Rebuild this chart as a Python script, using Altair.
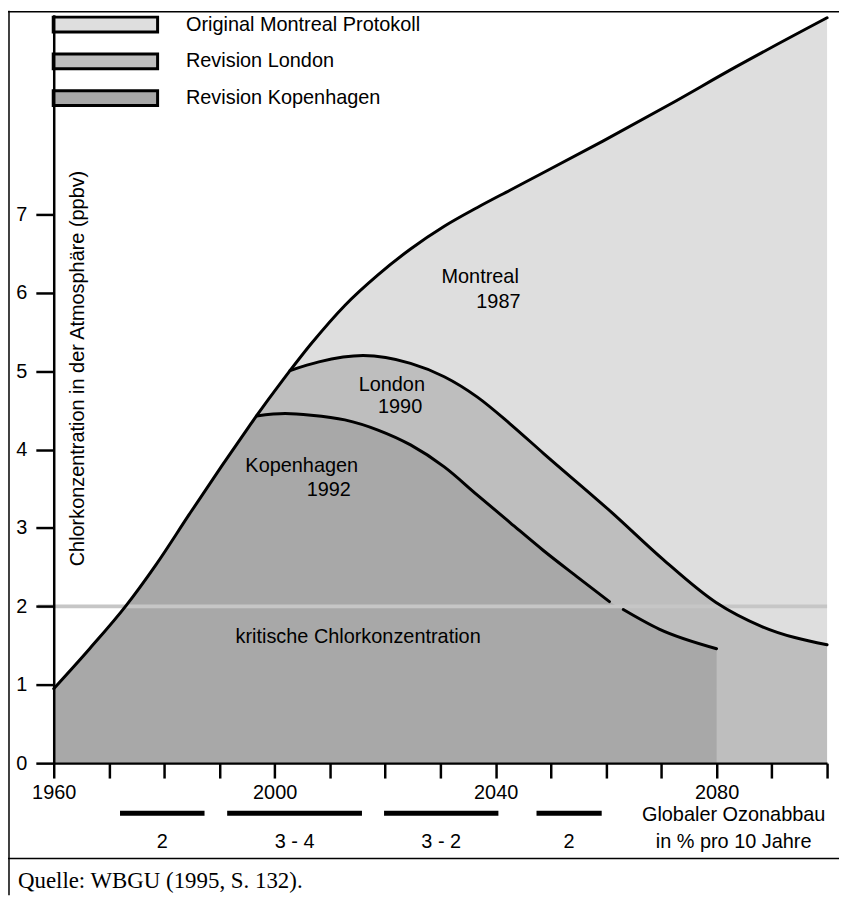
import altair as alt
import pandas as pd

# ---------------- data ----------------
montreal_years = [1960.0, 1966.5, 1973.1, 1978.5, 1984.5, 1990.4, 1995.5, 1996.7,
                  2001.5, 2002.8, 2006.6, 2012.7, 2018.7, 2024.6, 2030.7, 2036.7,
                  2042.6, 2048.0, 2059.5, 2071.4, 2083.4, 2100.0]
montreal_vals = [0.95, 1.46, 2.01, 2.53, 3.17, 3.79, 4.31, 4.43,
                 4.89, 5.01, 5.35, 5.84, 6.23, 6.56, 6.85, 7.09,
                 7.31, 7.51, 7.94, 8.40, 8.88, 9.51]

london_years = [2002.8, 2008.0, 2016.0, 2024.6, 2030.7, 2036.7, 2042.6,
                2048.7, 2061.0, 2070.3, 2079.9, 2088.3, 2100.0]
london_vals = [5.01, 5.12, 5.20, 5.10, 4.93, 4.67, 4.33,
               3.95, 3.20, 2.60, 2.05, 1.74, 1.51]

kop_years = [1996.7, 2001.9, 2006.6, 2012.7, 2018.7, 2024.6, 2030.7, 2036.7, 2042.6,
             2048.7, 2054.7, 2060.6, 2063.1, 2069.6, 2080.0]
kop_vals = [4.43, 4.46, 4.44, 4.38, 4.25, 4.06, 3.78, 3.42, 3.07,
            2.71, 2.38, 2.06, 1.96, 1.71, 1.46]

protocols = ["Original Montreal Protokoll", "Revision London", "Revision Kopenhagen"]
fills = ["#dedede", "#bebebe", "#a8a8a8"]

critical_level = 2
critical_label = "kritische Chlorkonzentration"
critical_label_year = 2015.1
critical_label_val = 1.61

curve_label_text = ["Montreal", "1987", "London", "1990", "Kopenhagen", "1992"]
curve_label_year = [2037.2, 2040.5, 2021.2, 2022.7, 2004.9, 2009.8]
curve_label_val = [6.20, 5.88, 4.82, 4.54, 3.79, 3.49]

bar_start = [1972.0, 1991.4, 2019.8, 2047.4]
bar_end = [1987.3, 2015.8, 2040.5, 2059.2]
bar_labels = ["2", "3 - 4", "3 - 2", "2"]

y_ticks = [0, 1, 2, 3, 4, 5, 6, 7]
x_ticks = list(range(1960, 2101, 10))
x_labelled = [1960, 2000, 2040, 2080]

y_title = "Chlorkonzentration in der Atmosphäre (ppbv)"
ozone_lines = ["Globaler Ozonabbau", "in % pro 10 Jahre"]
source_text = "Quelle: WBGU (1995, S. 132)."

# ---------------- tables ----------------
def rows(years, vals, name):
    return [{"year": y, "value": v, "Protokoll": name} for y, v in zip(years, vals)]

def montreal_before(year0, name):
    ys = [y for y in montreal_years if y < year0]
    vs = [v for y, v in zip(montreal_years, montreal_vals) if y < year0]
    return rows(ys, vs, name)

m_rows = rows(montreal_years, montreal_vals, protocols[0])
l_rows = montreal_before(london_years[0], protocols[1]) + rows(london_years, london_vals, protocols[1])
k_rows = montreal_before(kop_years[0], protocols[2]) + rows(kop_years, kop_vals, protocols[2])
df_area = pd.DataFrame(m_rows + l_rows + k_rows)

df_m = pd.DataFrame({"year": montreal_years, "value": montreal_vals})
df_l = pd.DataFrame({"year": london_years, "value": london_vals})
df_k = pd.DataFrame({"year": kop_years, "value": kop_vals,
                     "seg": ["a" if v > critical_level else "b" for v in kop_vals]})
df_crit = pd.DataFrame({"value": [critical_level]})
df_crit_lab = pd.DataFrame({"year": [critical_label_year], "value": [critical_label_val],
                            "t": [critical_label]})
df_curve_lab = pd.DataFrame({"year": curve_label_year, "value": curve_label_val,
                             "t": curve_label_text})
df_bars = pd.DataFrame({"year": bar_start, "end": bar_end, "t": bar_labels,
                        "mid": [(a + b) / 2 for a, b in zip(bar_start, bar_end)]})
df_ytitle = pd.DataFrame({"t": [y_title]})
df_oz1 = pd.DataFrame({"t": [ozone_lines[0]]})
df_oz2 = pd.DataFrame({"t": [ozone_lines[1]]})
df_src = pd.DataFrame({"t": [source_text]})
df_one = pd.DataFrame({"t": [0]})

# ---------------- layout ----------------
W, H = 778, 753
PAD = {"left": 46, "top": 4, "right": 12, "bottom": 133}
SANS = "Liberation Sans"
SERIF = "Liberation Serif"
FS = 20

x_scale = alt.Scale(domain=[1960, 2100], nice=False, zero=False)
y_scale = alt.Scale(domain=[0, 9.55], nice=False, zero=True)
color_scale = alt.Scale(domain=protocols, range=fills)

x_axis = alt.Axis(values=x_ticks, format="d",
                  labelExpr="indexof(%s, datum.value) >= 0 ? datum.label : ''" % str(x_labelled),
                  tickSize=15, tickWidth=2.5, domainWidth=2.5, tickColor="black",
                  domainColor="black", labelColor="black", labelFont=SANS, labelFontSize=FS,
                  labelPadding=5, labelFlush=False, labelOverlap=False, grid=False,
                  title=None, zindex=2)
y_axis = alt.Axis(values=y_ticks, tickSize=18, tickWidth=2.5, domainWidth=2.5,
                  tickColor="black", domainColor="black", labelColor="black",
                  labelFont=SANS, labelFontSize=FS, labelPadding=9, grid=False,
                  title=None, zindex=2)

X = alt.X("year:Q", scale=x_scale, axis=x_axis, title=None)
Y = alt.Y("value:Q", scale=y_scale, axis=y_axis, title=None)

legend = alt.Legend(title=None, orient="none", legendX=42, legendY=0, direction="vertical",
                    symbolType="M-7,-1H7V1H-7Z", symbolSize=225,
                    symbolStrokeColor="black", symbolStrokeWidth=3, symbolOpacity=1,
                    labelFont=SANS, labelFontSize=FS, labelColor="black",
                    labelOffset=71, rowPadding=9, labelLimit=500, padding=0)

area_base = alt.Chart(df_area).mark_area(interpolate="monotone", opacity=1).encode(
    x=X, y=Y,
    color=alt.Color("Protokoll:N", scale=color_scale, legend=legend),
)
areas = [area_base.transform_filter(alt.datum.Protokoll == p) for p in protocols]

crit = alt.Chart(df_crit).mark_rule(color="#c6c6c6", strokeWidth=4).encode(
    y=Y, x=alt.value(-16), x2=alt.value(W))

line_style = dict(interpolate="monotone", color="black", strokeWidth=3, strokeCap="round")
line_m = alt.Chart(df_m).mark_line(**line_style).encode(x=X, y=Y)
line_l = alt.Chart(df_l).mark_line(**line_style).encode(x=X, y=Y)
line_k = alt.Chart(df_k).mark_line(**line_style).encode(x=X, y=Y, detail="seg:N")

curve_labels = alt.Chart(df_curve_lab).mark_text(
    font=SANS, fontSize=FS, color="black", align="center", baseline="middle").encode(
    x=X, y=Y, text="t:N")
crit_label = alt.Chart(df_crit_lab).mark_text(
    font=SANS, fontSize=FS, color="black", align="center", baseline="middle").encode(
    x=X, y=Y, text="t:N")

bars = alt.Chart(df_bars).mark_rule(color="black", strokeWidth=5, strokeCap="butt").encode(
    x=X, x2="end:Q", y=alt.value(803.5))
bar_text = alt.Chart(df_bars).mark_text(
    font=SANS, fontSize=FS, color="black", align="center", baseline="middle").encode(
    x=alt.X("mid:Q", scale=x_scale, axis=x_axis, title=None), y=alt.value(832), text="t:N")

y_title_mark = alt.Chart(df_ytitle).mark_text(
    font=SANS, fontSize=FS, color="black", angle=270, align="center", baseline="middle").encode(
    x=alt.value(24), y=alt.value(356), text="t:N")

oz1 = alt.Chart(df_oz1).mark_text(font=SANS, fontSize=FS, color="black", align="center",
                                  baseline="middle").encode(x=alt.value(684), y=alt.value(805), text="t:N")
oz2 = alt.Chart(df_oz2).mark_text(font=SANS, fontSize=FS, color="black", align="center",
                                  baseline="middle").encode(x=alt.value(684), y=alt.value(832), text="t:N")

src = alt.Chart(df_src).mark_text(font=SERIF, fontSize=23, color="black", align="left",
                                  baseline="alphabetic").encode(x=alt.value(-36), y=alt.value(879), text="t:N")

frame_style = dict(color="black", strokeWidth=1.5)
sep = alt.Chart(df_one).mark_rule(**frame_style).encode(
    x=alt.value(-46), x2=alt.value(W + PAD["right"]), y=alt.value(849))
top_line = alt.Chart(df_one).mark_rule(**frame_style).encode(
    x=alt.value(-46), x2=alt.value(W + PAD["right"]), y=alt.value(-3))
left_line = alt.Chart(df_one).mark_rule(**frame_style).encode(
    x=alt.value(-45), y=alt.value(-4), y2=alt.value(H + PAD["bottom"]))

chart = alt.layer(
    *areas, crit, line_m, line_l, line_k, curve_labels, crit_label,
    bars, bar_text, y_title_mark, oz1, oz2, src, sep, top_line, left_line
).properties(
    width=W, height=H, padding=PAD, autosize=alt.AutoSizeParams(type="none"),
    background="white"
).configure_view(stroke=None)

chart.save("out.html", embed_options={"renderer": "svg", "actions": False})
